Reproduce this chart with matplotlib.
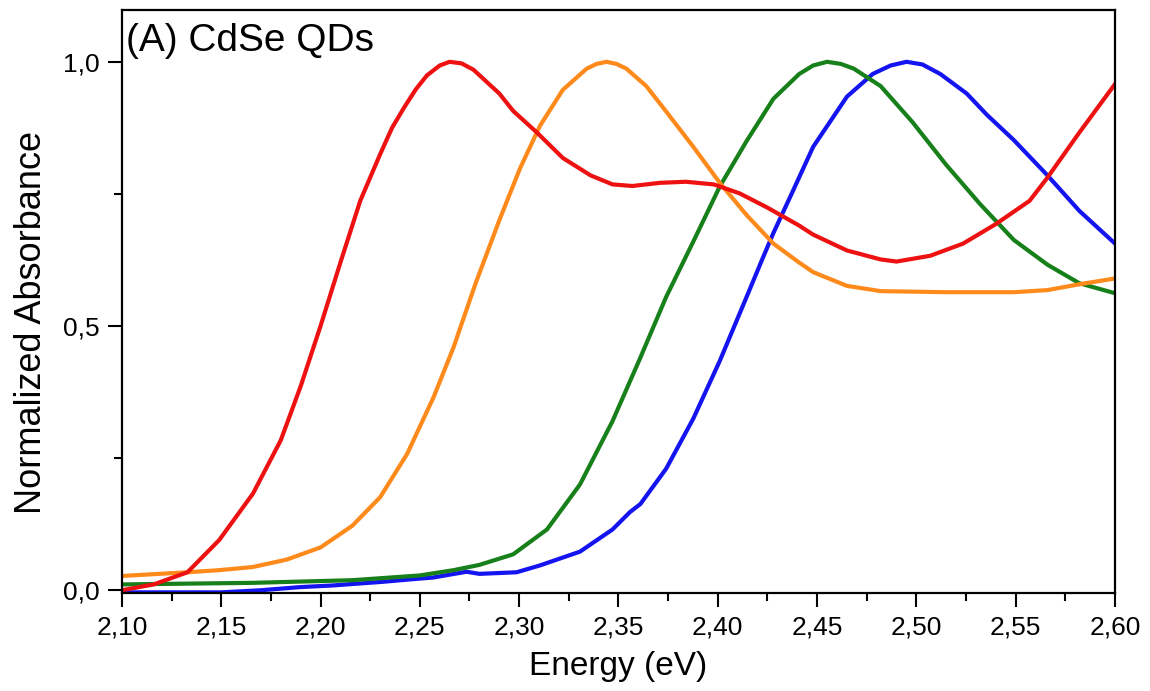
import matplotlib
matplotlib.use("Agg")
import matplotlib.pyplot as plt
from matplotlib.ticker import MultipleLocator, FuncFormatter

plt.rcParams['font.family'] = ['Liberation Sans', 'DejaVu Sans']

# absorbance spectra (energy in eV, normalized absorbance)
red_x = [2.100, 2.116, 2.133, 2.149, 2.166, 2.180, 2.190, 2.200, 2.210, 2.220,
         2.230, 2.236, 2.242, 2.248, 2.2535, 2.260, 2.265, 2.271, 2.277, 2.290,
         2.297, 2.309, 2.322, 2.336, 2.347, 2.357, 2.371, 2.384, 2.398, 2.411,
         2.425, 2.441, 2.448, 2.465, 2.482, 2.490, 2.507, 2.5235, 2.540, 2.557,
         2.566, 2.582, 2.600]
red_y = [0.000, 0.011, 0.034, 0.095, 0.183, 0.284, 0.386, 0.500, 0.620, 0.737,
         0.825, 0.875, 0.913, 0.948, 0.974, 0.993, 1.000, 0.997, 0.985, 0.940,
         0.907, 0.866, 0.818, 0.785, 0.768, 0.765, 0.771, 0.773, 0.768, 0.751,
         0.724, 0.690, 0.673, 0.643, 0.626, 0.622, 0.633, 0.656, 0.693, 0.737,
         0.781, 0.866, 0.958]

orange_x = [2.100, 2.133, 2.149, 2.166, 2.183, 2.200, 2.216, 2.230, 2.2436, 2.257,
            2.267, 2.278, 2.290, 2.3004, 2.3105, 2.322, 2.334, 2.339, 2.344, 2.349,
            2.354, 2.364, 2.374, 2.3877, 2.401, 2.4145, 2.428, 2.441, 2.448, 2.465,
            2.482, 2.515, 2.549, 2.566, 2.582, 2.600]
orange_y = [0.027, 0.034, 0.038, 0.044, 0.058, 0.081, 0.122, 0.176, 0.258, 0.366,
            0.460, 0.580, 0.700, 0.798, 0.879, 0.947, 0.987, 0.996, 1.000, 0.996,
            0.987, 0.954, 0.906, 0.839, 0.771, 0.710, 0.656, 0.620, 0.602, 0.576,
            0.566, 0.564, 0.564, 0.568, 0.579, 0.590]

green_x = [2.100, 2.166, 2.216, 2.250, 2.267, 2.280, 2.297, 2.314, 2.3306, 2.347,
           2.361, 2.374, 2.3877, 2.401, 2.4145, 2.428, 2.441, 2.448, 2.455, 2.462,
           2.4685, 2.482, 2.498, 2.515, 2.532, 2.549, 2.566, 2.582, 2.600]
green_y = [0.011, 0.014, 0.019, 0.028, 0.038, 0.048, 0.068, 0.115, 0.200, 0.320,
           0.440, 0.555, 0.660, 0.764, 0.850, 0.930, 0.977, 0.993, 1.000, 0.996,
           0.987, 0.954, 0.886, 0.805, 0.731, 0.663, 0.616, 0.581, 0.562]

blue_x = [2.100, 2.150, 2.170, 2.190, 2.206, 2.2315, 2.2466, 2.2566, 2.2735, 2.280,
          2.2987, 2.3105, 2.3306, 2.347, 2.3558, 2.361, 2.374, 2.3877, 2.401, 2.4145,
          2.4228, 2.428, 2.438, 2.448, 2.465, 2.478, 2.487, 2.495, 2.503, 2.512,
          2.5253, 2.5354, 2.549, 2.566, 2.582, 2.600]
blue_y = [-0.004, -0.004, 0.000, 0.006, 0.009, 0.016, 0.021, 0.024, 0.035, 0.031,
          0.034, 0.047, 0.073, 0.115, 0.148, 0.163, 0.230, 0.325, 0.434, 0.555,
          0.630, 0.676, 0.757, 0.839, 0.934, 0.977, 0.993, 1.000, 0.995, 0.977,
          0.940, 0.900, 0.852, 0.785, 0.718, 0.656]

x_ticks = [2.10, 2.15, 2.20, 2.25, 2.30, 2.35, 2.40, 2.45, 2.50, 2.55, 2.60]
y_ticks = [0.0, 0.5, 1.0]

fig = plt.figure(figsize=(11.5, 6.91), dpi=100)
ax = fig.add_axes([0.106, 0.142, 0.8636, 0.8435])

lw = 3.0
ax.plot(blue_x, blue_y, color='#1414f0', lw=lw)
ax.plot(green_x, green_y, color='#17801a', lw=lw)
ax.plot(orange_x, orange_y, color='#ff8a1c', lw=lw)
ax.plot(red_x, red_y, color='#ee1111', lw=lw)

ax.set_xlim(2.10, 2.60)
ax.set_ylim(-0.005, 1.098)
ax.set_xticks(x_ticks)
ax.set_yticks(y_ticks)
ax.xaxis.set_minor_locator(MultipleLocator(0.025))
ax.yaxis.set_minor_locator(MultipleLocator(0.25))
ax.xaxis.set_major_formatter(FuncFormatter(lambda v, p: f"{v:.2f}".replace('.', ',')))
ax.yaxis.set_major_formatter(FuncFormatter(lambda v, p: f"{v:.1f}".replace('.', ',')))

ax.tick_params(which='both', direction='out', width=1.5, labelsize=19, top=False, right=False)
ax.tick_params(which='major', length=10, pad=6)
ax.tick_params(which='minor', length=6)
for s in ax.spines.values():
    s.set_linewidth(1.6)

ax.set_xlabel("Energy (eV)", fontsize=24)
ax.set_ylabel("Normalized Absorbance", fontsize=26)
ax.xaxis.set_label_coords(0.5, -0.1)
ax.yaxis.set_label_coords(-0.073, 0.464)
ax.text(0.004, 0.977, "(A) CdSe QDs", transform=ax.transAxes, fontsize=28,
        ha='left', va='top')

fig.savefig("out.png", dpi=100)
